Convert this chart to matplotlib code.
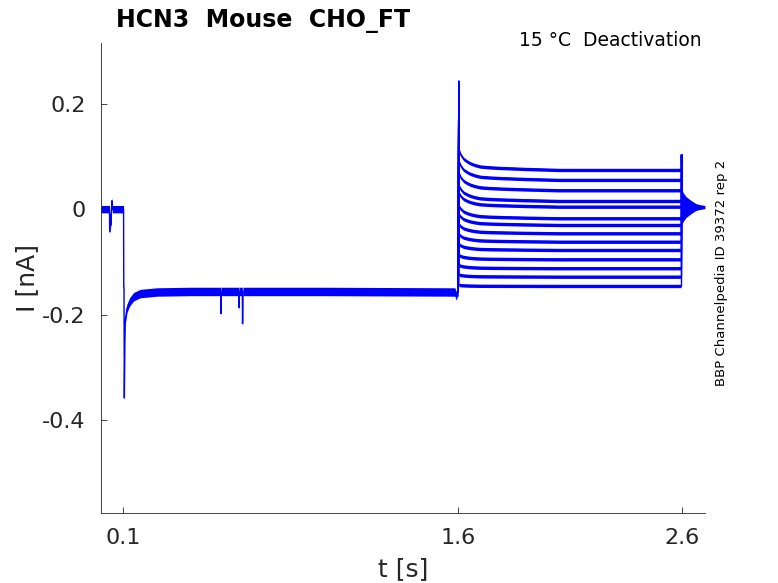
import numpy as np
import matplotlib
matplotlib.use("Agg")
import matplotlib.pyplot as plt

# holding part, common to all sweeps (t in s, I in nA)
hold_t = [0.0, 0.038, 0.039, 0.041, 0.045, 0.047, 0.049, 0.051, 0.101,
          0.102, 0.103, 0.1045, 0.107, 0.109, 0.1165, 0.128, 0.146, 0.176,
          0.251, 0.40, 0.536, 0.537, 0.538, 0.618, 0.619, 0.620, 0.633,
          0.634, 0.636, 1.0, 1.585, 1.592, 1.596, 1.600]
hold_i = [0.0, 0.0, -0.043, -0.01, -0.03, 0.0, 0.016, 0.0, 0.0,
          -0.147, -0.15, -0.358, -0.25, -0.21, -0.188, -0.176, -0.166, -0.160,
          -0.157, -0.156, -0.156, -0.198, -0.156, -0.156, -0.187, -0.156, -0.156,
          -0.217, -0.156, -0.156, -0.157, -0.165, -0.157, -0.157]
hold_hw = [0.007, 0.007, 0.007, 0.007, 0.007, 0.007, 0.007, 0.007, 0.007,
           0.004, 0.004, 0.004, 0.006, 0.007, 0.008, 0.008, 0.008, 0.008,
           0.008, 0.008, 0.008, 0.008, 0.008, 0.008, 0.008, 0.008, 0.008,
           0.008, 0.008, 0.008, 0.008, 0.008, 0.008, 0.008]

# deactivation step, one entry per sweep
steady = [0.0743, 0.0554, 0.0358, 0.0155, 0.0047, -0.0173, -0.030,
          -0.0458, -0.0617, -0.0774, -0.0951, -0.112, -0.128, -0.1456]
overshoot = [0.038, 0.035, 0.032, 0.029, 0.026, 0.023, 0.020,
             0.017, 0.014, 0.011, 0.008, 0.006, 0.004, 0.002]
step_t = [1.603, 1.612, 1.624, 1.640, 1.654, 1.675, 1.699, 1.740, 1.788,
          1.900, 2.050, 2.598]
decay = [1.0, 0.75, 0.55, 0.42, 0.33, 0.24, 0.17, 0.13, 0.10, 0.05, 0.0, 0.0]
on_peak = 0.242
off_peak = 0.103

# tail after the step
tail_t = [2.600, 2.603, 2.608, 2.620, 2.638, 2.655, 2.668, 2.690, 2.705]
tail_i = [0.004, 0.004, 0.004, 0.004, 0.004, 0.004, 0.004, 0.004, 0.004]
tail_hw = [0.036, 0.032, 0.027, 0.020, 0.014, 0.009, 0.006, 0.004, 0.003]

blue = "#0000ff"
fig = plt.figure(figsize=(7.78, 5.83), dpi=100)
ax = fig.add_axes([101 / 778, 70.5 / 583, 603.5 / 778, 469.5 / 583])

ht = np.array(hold_t)
hi = np.array(hold_i)
hw = np.array(hold_hw)
ax.fill_between(ht, hi - hw, hi + hw, color=blue, lw=0)
ax.plot(ht, hi, color=blue, lw=1.0)

st = np.array(step_t)
dc = np.array(decay)
for s, o in zip(steady, overshoot):
    body = s + o * dc
    ax.fill_between(st, body - 0.0032, body + 0.0032, color=blue, lw=0)
    t = [1.600, 1.6025, 1.603] + list(st) + [2.600, 2.6005, 2.602]
    i = [-0.157, on_peak, body[0]] + list(body) + [s, off_peak, 0.004]
    ax.plot(t, i, color=blue, lw=1.0)

tt = np.array(tail_t)
ti = np.array(tail_i)
tw = np.array(tail_hw)
ax.fill_between(tt, ti - tw, ti + tw, color=blue, lw=0)
ax.plot(tt, ti, color=blue, lw=1.0)

ax.set_xlim(0.0, 2.703)
ax.set_ylim(-0.575, 0.315)
ax.set_xticks([0.1, 1.6, 2.6])
ax.set_xticklabels(["0.1", "1.6", "2.6"])
ax.set_yticks([-0.4, -0.2, 0, 0.2])
ax.set_yticklabels(["-0.4", "-0.2", "0", "0.2"])
ax.tick_params(direction="in", length=4, width=0.6, color="#262626",
               labelcolor="#262626", labelsize=16)
ax.tick_params(axis="y", pad=11)
ax.tick_params(axis="x", pad=11)
for side in ["top", "right"]:
    ax.spines[side].set_visible(False)
for side in ["left", "bottom"]:
    ax.spines[side].set_color("#262626")
    ax.spines[side].set_linewidth(0.6)

ax.set_xlabel("t [s]", fontsize=18, color="#262626", labelpad=7)
ax.set_ylabel("I [nA]", fontsize=18, color="#262626", labelpad=2.5)

fig.text(116 / 778, 1 - 27 / 583, "HCN3  Mouse  CHO_FT", fontsize=17,
         fontweight="bold", ha="left", va="baseline")
fig.text(702 / 778, 1 - 46.5 / 583, "15 °C  Deactivation", fontsize=13.5,
         ha="right", va="baseline")
fig.text(721 / 778, 1 - 273 / 583, "BBP Channelpedia ID 39372 rep 2",
         fontsize=9.5, rotation=90, ha="center", va="center")

fig.savefig("out.png", dpi=100)
